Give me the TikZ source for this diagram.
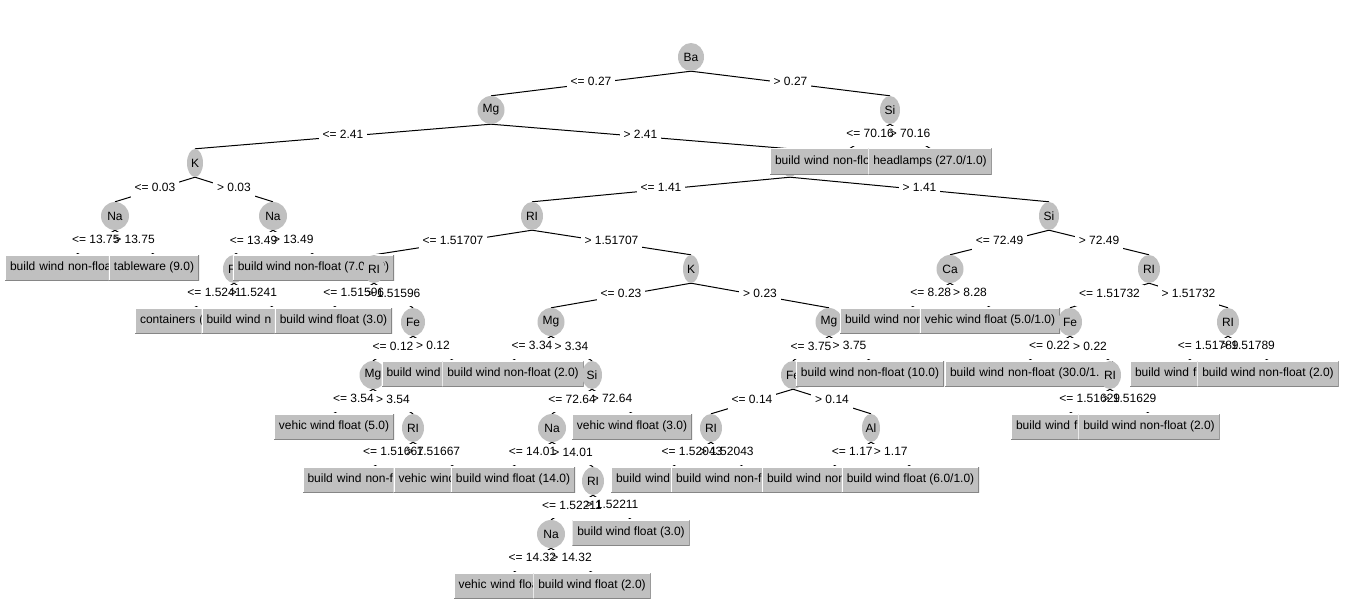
\documentclass[tikz,border=0pt]{standalone}
\usepackage{fontspec}
\setmainfont{Liberation Sans}
\usepackage{tikz}
\usetikzlibrary{shapes.geometric, backgrounds}
\definecolor{nodegray}{RGB}{192,192,192}
\definecolor{shadegray}{RGB}{134,134,134}

\begin{document}
\begin{tikzpicture}[x=1pt, y=-1pt, font=\fontsize{12pt}{14pt}\selectfont,
  attr/.style={ellipse, fill=nodegray, inner sep=0pt, minimum height=28pt, minimum width=#1},
  attr/.default=27pt,
  leaf/.style={rectangle, fill=nodegray, inner xsep=5pt, inner ysep=0pt, minimum height=26pt,
    text height=8.6pt, text depth=2.6pt, yshift=1.5pt,
    path picture={
      \draw[white, line width=2pt] (path picture bounding box.south west) -- (path picture bounding box.north west) -- (path picture bounding box.north east);
      \draw[shadegray, line width=2pt] (path picture bounding box.north east) -- (path picture bounding box.south east) -- (path picture bounding box.south west);
    }},
  cutleaf/.style={leaf, text width=#1, align=left},
  branch/.style={black, line width=1pt},
  gap/.style={fill=white, text=white, inner xsep=4pt, inner ysep=0pt, minimum height=20.5pt},
  cond/.style={inner sep=0pt, yshift=2.5pt}]
\useasboundingbox (0,0) rectangle (1349,607);

% Ba <= 0.27, Mg <= 2.41
\node[attr=26pt] (ba) at (691,57) {Ba};
\node[attr] (mg) at (491,110) {Mg};
\node[attr=16pt] (k) at (195,163) {K};
\node[attr=28pt] (na) at (115,216) {Na};
\node[cutleaf=133pt] (lf1) at (76.5,269) {build wind non-floa};
\node[leaf] (lf2) at (154,269) {tableware (9.0)};
\node[attr=28pt] (nb) at (273,216) {Na};
\node[attr=22pt] (ria) at (234,269) {RI};
\node[cutleaf=110pt] (lf3) at (195,322) {containers (};
\node[cutleaf=133pt] (lf4) at (273,322) {build wind n};
\node[leaf] (lf5) at (313.5,269) {build wind non-float (7.0/1.0)};

% Mg > 2.41, left part
\node[attr=18pt] (al) at (790,163) {};
\node[attr=22pt] (rib) at (532,216) {RI};
\node[attr=22pt] (ric) at (374,269) {RI};
\node[leaf] (lf6) at (333.5,322) {build wind float (3.0)};
\node[attr=24pt] (fe) at (413,322) {Fe};
\node[attr] (mgb) at (373,375) {Mg};
\node[leaf] (lf7) at (334,428) {vehic wind float (5.0)};
\node[attr=22pt] (rid) at (413,428) {RI};
\node[cutleaf=133pt] (lf8) at (374,481) {build wind non-f};
\node[cutleaf=110pt] (lf9) at (453.5,481) {vehic wind};
\node[cutleaf=133pt] (lf10) at (453,375) {build wind};
\node[attr=16pt] (kb) at (691,269) {K};
\node[attr] (mgc) at (551,322) {Mg};
\node[leaf] (lf11) at (513,375) {build wind non-float (2.0)};
\node[attr=20pt] (sib) at (592,375) {Si};
\node[attr=28pt] (nc) at (552,428) {Na};
\node[leaf] (lf12) at (513,481) {build wind float (14.0)};
\node[attr=22pt] (rie) at (593,481) {RI};
\node[attr=28pt] (nd) at (551,534) {Na};
\node[cutleaf=110pt] (lf13) at (513.5,587) {vehic wind floa};
\node[leaf] (lf14) at (592,587) {build wind float (2.0)};
\node[leaf] (lf15) at (631,534) {build wind float (3.0)};
\node[leaf] (lf16) at (632,428) {vehic wind float (3.0)};
\node[attr] (mgd) at (829,322) {Mg};
\node[attr=24pt] (feb) at (793,375) {Fe};
\node[attr=22pt] (rif) at (711,428) {RI};
\node[cutleaf=114pt] (lf17) at (673,481) {build wind};
\node[cutleaf=133pt] (lf18) at (742.5,481) {build wind non-f};
\node[attr=18pt] (alb) at (871,428) {Al};
\node[cutleaf=133pt] (lf19) at (833.5,481) {build wind non};
\node[leaf] (lf20) at (910.5,481) {build wind float (6.0/1.0)};
\node[leaf] (lf21) at (870,375) {build wind non-float (10.0)};

% Mg > 2.41, right part
\node[attr=20pt] (sic) at (1049,216) {Si};
\node[attr] (ca) at (950,269) {Ca};
\node[cutleaf=133pt] (lf22) at (911.5,322) {build wind non};
\node[leaf] (lf23) at (990,322) {vehic wind float (5.0/1.0)};
\node[attr=22pt] (rig) at (1149,269) {RI};
\node[attr=24pt] (fec) at (1070,322) {Fe};
\node[cutleaf=158pt] (lf24) at (1029,375) {build wind non-float (30.0/1.};
\node[attr=22pt] (rih) at (1110,375) {RI};
\node[cutleaf=107pt] (lf25) at (1069.5,428) {build wind fl};
\node[leaf] (lf26) at (1149,428) {build wind non-float (2.0)};
\node[attr=22pt] (rii) at (1228,322) {RI};
\node[cutleaf=107pt] (lf27) at (1188.5,375) {build wind fl};
\node[leaf] (lf28) at (1268,375) {build wind non-float (2.0)};

% Ba > 0.27
\node[attr=20pt] (si) at (890,110) {Si};
\node[cutleaf=150pt] (lf29) at (850,163) {build wind non-flo};
\node[leaf] (lf30) at (930,163) {headlamps (27.0/1.0)};

\def\branches{ba/mg/{<= 0.27}, ba/si/{> 0.27},
  mg/k/{<= 2.41}, mg/al/{> 2.41},
  k/na/{<= 0.03}, k/nb/{> 0.03},
  na/lf1/{<= 13.75}, na/lf2/{> 13.75},
  nb/ria/{<= 13.49}, nb/lf5/{> 13.49},
  ria/lf3/{<= 1.5241}, ria/lf4/{> 1.5241},
  al/rib/{<= 1.41}, al/sic/{> 1.41},
  rib/ric/{<= 1.51707}, rib/kb/{> 1.51707},
  ric/lf6/{<= 1.51596}, ric/fe/{> 1.51596},
  fe/mgb/{<= 0.12}, fe/lf10/{> 0.12},
  mgb/lf7/{<= 3.54}, mgb/rid/{> 3.54},
  rid/lf8/{<= 1.51667}, rid/lf9/{> 1.51667},
  kb/mgc/{<= 0.23}, kb/mgd/{> 0.23},
  mgc/lf11/{<= 3.34}, mgc/sib/{> 3.34},
  sib/nc/{<= 72.64}, sib/lf16/{> 72.64},
  nc/lf12/{<= 14.01}, nc/rie/{> 14.01},
  rie/nd/{<= 1.52211}, rie/lf15/{> 1.52211},
  nd/lf13/{<= 14.32}, nd/lf14/{> 14.32},
  mgd/feb/{<= 3.75}, mgd/lf21/{> 3.75},
  feb/rif/{<= 0.14}, feb/alb/{> 0.14},
  rif/lf17/{<= 1.52043}, rif/lf18/{> 1.52043},
  alb/lf19/{<= 1.17}, alb/lf20/{> 1.17},
  sic/ca/{<= 72.49}, sic/rig/{> 72.49},
  ca/lf22/{<= 8.28}, ca/lf23/{> 8.28},
  rig/fec/{<= 1.51732}, rig/rii/{> 1.51732},
  fec/lf24/{<= 0.22}, fec/rih/{> 0.22},
  rih/lf25/{<= 1.51629}, rih/lf26/{> 1.51629},
  rii/lf27/{<= 1.51789}, rii/lf28/{> 1.51789},
  si/lf29/{<= 70.16}, si/lf30/{> 70.16}}

% Branches under the nodes, with a white gap for each test
\begin{scope}[on background layer]
\fill[white] (0,0) rectangle (1349,607);
\foreach \a/\b/\t in \branches \draw[branch] (\a.south) -- (\b.north);
\foreach \a/\b/\t in \branches \path (\a.south) -- node[gap] {\t} (\b.north);
\end{scope}

% Test labels
\foreach \a/\b/\t in \branches \path (\a.south) -- node[cond] {\t} (\b.north);
\end{tikzpicture}
\end{document}
